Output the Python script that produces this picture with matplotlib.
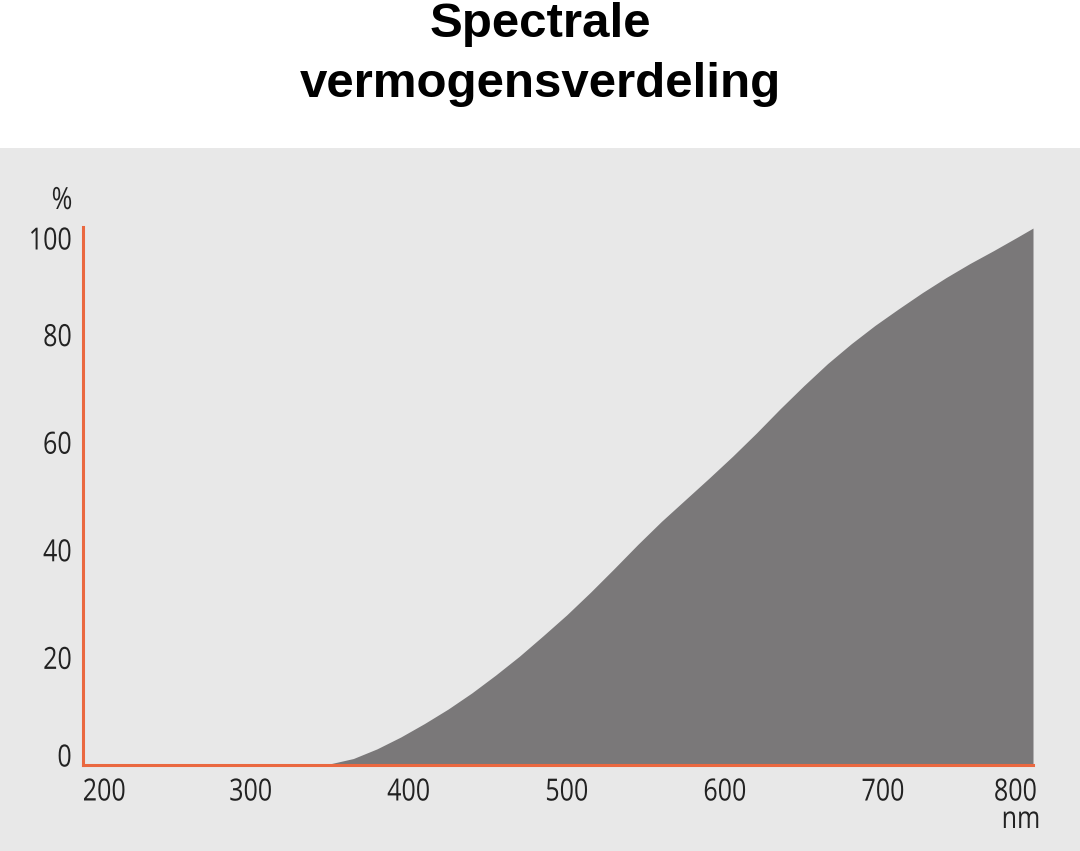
#!/usr/bin/env python3
# -*- coding: utf-8 -*-
"""Spectrale vermogensverdeling - filled area chart"""

import matplotlib
matplotlib.use("Agg")
import matplotlib.pyplot as plt
import matplotlib.transforms as mtransforms
from matplotlib.patches import Rectangle
from matplotlib.patheffects import AbstractPathEffect

# data (wavelength in nm, relative power in %)
wavelength = [195, 340, 350, 365, 380, 395, 410, 425, 440, 455, 470, 485,
              500, 515, 530, 545, 560, 575, 590, 605, 620, 635, 650, 665,
              680, 695, 710, 725, 740, 755, 770, 785, 795]
power = [0, 0, 0.2, 1.2, 3.0, 5.2, 7.7, 10.4, 13.4, 16.7, 20.2, 24.0,
         27.9, 32.1, 36.5, 41.0, 45.3, 49.3, 53.3, 57.4, 61.7, 66.2, 70.5, 74.6,
         78.3, 81.7, 84.8, 87.8, 90.6, 93.2, 95.6, 98.1, 99.8]

x_ticks = [200, 300, 400, 500, 600, 700, 800]
y_ticks = [0, 20, 40, 60, 80, 100]
title_lines = ["Spectrale", "vermogensverdeling"]

ORANGE = '#ea6840'
FILL = '#7a7879'
PANEL = '#e8e8e8'
TEXT = '#222222'
TICK_FONT = 'Open Sans'
TICK_SIZE = 22


class Squash(AbstractPathEffect):
    """Narrow a text horizontally (the original uses a condensed face)"""

    def __init__(self, sx=0.82, anchor='center'):
        super().__init__()
        self.sx = sx
        self.anchor = anchor

    def draw_path(self, renderer, gc, tpath, affine, rgbFace=None):
        ext = tpath.get_extents(affine)
        if self.anchor == 'right':
            x0 = ext.x1
        elif self.anchor == 'left':
            x0 = ext.x0
        else:
            x0 = (ext.x0 + ext.x1) / 2
        squash = mtransforms.Affine2D().translate(-x0, 0).scale(self.sx, 1).translate(x0, 0)
        renderer.draw_path(gc, tpath, affine + squash, rgbFace)


fig = plt.figure(figsize=(10.8, 8.51), dpi=100, facecolor='white')

# light grey panel under the chart
fig.patches.append(Rectangle((0, 0), 1, (851 - 148) / 851, transform=fig.transFigure,
                             facecolor=PANEL, edgecolor='none', zorder=-5))

for line, y in zip(title_lines, [1 - 37 / 851, 1 - 97 / 851]):
    fig.text(0.5, y, line, ha='center', va='baseline', fontsize=35.5,
             fontweight='bold', family='Liberation Sans', color='black')

ax = fig.add_axes([83 / 1080, 86 / 851, 950 / 1080, 538 / 851])
ax.set_facecolor('none')
ax.set_zorder(2)

ax.fill_between(wavelength, power, 0, color=FILL, linewidth=0, zorder=1)

for side in ['top', 'right']:
    ax.spines[side].set_visible(False)
for side in ['left', 'bottom']:
    ax.spines[side].set_color(ORANGE)
    ax.spines[side].set_linewidth(2.2)
    ax.spines[side].set_zorder(3)

# the axis stops just short of 800 nm, so the last label is added by hand
ax.set_xticks(x_ticks[:-1])
ax.set_yticks(y_ticks)
ax.set_xlim(194, 795)
ax.set_ylim(0, 100)
ax.tick_params(length=0, labelsize=TICK_SIZE, labelcolor=TEXT)
ax.tick_params(axis='x', pad=9)
ax.tick_params(axis='y', pad=8)

xl = ax.get_xticklabels()
yl = ax.get_yticklabels()
for lab in xl:
    lab.set_family(TICK_FONT)
    lab.set_path_effects([Squash(0.82, 'center')])
for lab in yl:
    lab.set_family(TICK_FONT)
    lab.set_path_effects([Squash(0.82, 'right')])

# end labels are pulled inward, as in the original
xl[0].set_horizontalalignment('left')
xl[0].set_path_effects([Squash(0.82, 'left')])
xl[0].set_transform(xl[0].get_transform() + mtransforms.ScaledTranslation(-10 / 100, 0, fig.dpi_scale_trans))
yl[0].set_transform(yl[0].get_transform() + mtransforms.ScaledTranslation(0, 10 / 100, fig.dpi_scale_trans))
yl[-1].set_transform(yl[-1].get_transform() + mtransforms.ScaledTranslation(0, -11 / 100, fig.dpi_scale_trans))

ax.annotate(str(x_ticks[-1]), xy=(x_ticks[-1], 0),
            xycoords=mtransforms.blended_transform_factory(ax.transData, ax.transAxes),
            xytext=(-4, -12.5), textcoords='offset pixels', ha='right', va='top',
            fontsize=TICK_SIZE, family=TICK_FONT, color=TEXT, annotation_clip=False,
            path_effects=[Squash(0.82, 'right')])

# unit labels
fig.text(62 / 1080, 1 - 201 / 851, '%', ha='center', va='center', fontsize=TICK_SIZE,
         family=TICK_FONT, color=TEXT, path_effects=[Squash(0.82, 'center')])
fig.text(1021 / 1080, 1 - 820 / 851, 'nm', ha='center', va='center', fontsize=TICK_SIZE,
         family=TICK_FONT, color=TEXT, path_effects=[Squash(0.82, 'center')])

fig.savefig('out.png', dpi=100, facecolor='white')
